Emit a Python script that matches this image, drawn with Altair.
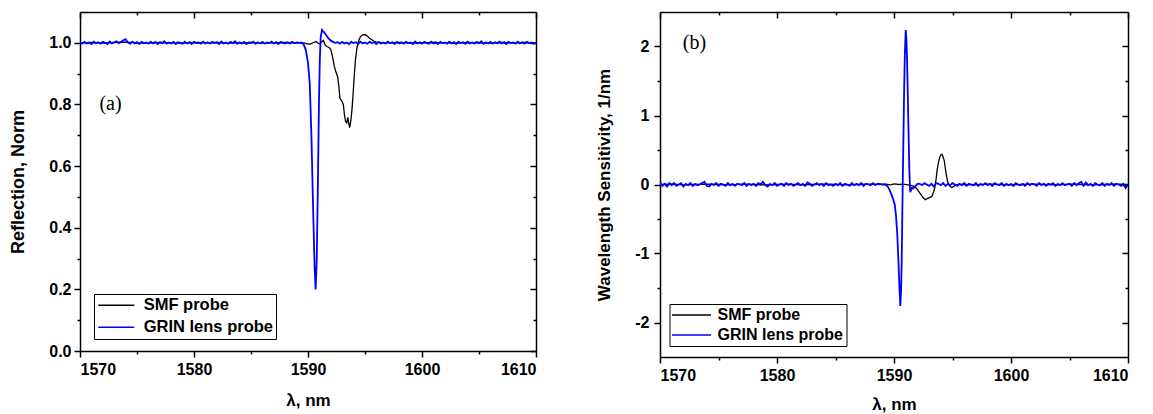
import altair as alt
import numpy as np
import pandas as pd

FONT = "Liberation Sans"
SERIES = ["SMF probe", "GRIN lens probe"]
COLORS = ["#000000", "#0000ff"]
PANEL_TAGS = ["(a)", "(b)"]
X_MAJOR = [1570, 1580, 1590, 1600, 1610]
X_MINOR = [1575, 1585, 1595, 1605]

# ---------------- panel (a): normalised reflection ----------------
# GRIN lens probe, baseline read every 0.2 nm from 1570 to 1610
grin_a_base = [
    1.002, 0.997, 1.003, 0.998, 1.001, 0.996, 1.004, 0.999, 1.002, 0.997, 1.003, 1.000, 0.996, 1.004, 0.998, 1.002, 1.005, 0.999, 1.003, 1.008,
    1.012, 1.001, 0.997, 1.004, 0.998, 1.002, 0.996, 1.003, 0.999, 1.001, 0.997, 1.004, 0.998, 1.003, 0.996, 1.002, 0.999, 1.005, 0.997, 1.001,
    0.998, 1.003, 0.996, 1.002, 1.000, 0.997, 1.004, 0.998, 1.002, 0.996, 1.003, 0.999, 1.001, 0.997, 1.004, 0.998, 1.002, 0.997, 1.003, 0.999,
    1.002, 0.996, 1.004, 0.998, 1.001, 0.997, 1.003, 0.999, 1.005, 0.997, 1.002, 0.998, 1.003, 0.996, 1.001, 0.999, 1.004, 0.997, 1.002, 0.998,
    1.003, 0.997, 1.001, 0.999, 1.004, 0.998, 1.002, 0.996, 1.003, 1.000, 0.998, 1.002, 0.997, 1.003, 0.999, 1.001, 1.000, 1.000, 1.000, 1.000,
    1.000, 1.000, 1.000, 1.000, 1.000, 1.000, 1.000, 1.000, 1.000, 1.000, 1.000, 1.000, 1.000, 1.002, 0.997, 1.003, 0.998, 1.001, 0.996, 1.003,
    0.999, 1.002, 0.997, 1.004, 0.998, 1.001, 0.997, 1.003, 0.999, 1.002, 0.996, 1.003, 0.998, 1.001, 0.997, 1.004, 0.999, 1.002, 0.996, 1.003,
    0.998, 1.002, 0.997, 1.003, 0.999, 1.001, 0.996, 1.004, 0.998, 1.002, 0.997, 1.003, 1.000, 0.997, 1.004, 0.998, 1.002, 0.996, 1.003, 0.999,
    1.001, 0.997, 1.004, 0.998, 1.002, 0.996, 1.003, 0.999, 1.002, 0.997, 1.004, 0.998, 1.001, 0.997, 1.003, 0.999, 1.005, 0.997, 1.002, 0.998,
    1.003, 0.997, 1.002, 0.999, 1.004, 0.998, 1.002, 0.996, 1.003, 0.999, 1.001, 0.997, 1.004, 0.998, 1.002, 0.997, 1.003, 0.999, 1.001, 0.997,
    1.000,
]
grin_a_feat_wl = [1589.4, 1589.6, 1589.8, 1590.0, 1590.15, 1590.3, 1590.45, 1590.58, 1590.67, 1590.77, 1590.87,
                  1590.96, 1591.04, 1591.12, 1591.23, 1591.35, 1591.5, 1591.65, 1591.8, 1592.0, 1592.2, 1592.4]
grin_a_feat = [1.001, 0.996, 0.978, 0.935, 0.870, 0.700, 0.460, 0.270, 0.200, 0.300, 0.550,
               0.800, 0.950, 1.020, 1.042, 1.036, 1.030, 1.022, 1.014, 1.007, 1.003, 1.000]

# SMF probe
smf_a_base_wl = [1570, 1571, 1572, 1573, 1574, 1575, 1576, 1577, 1578, 1579, 1580, 1581, 1582, 1583, 1584, 1585,
                 1586, 1587, 1588, 1589, 1597, 1598, 1599, 1600, 1601, 1602, 1603, 1604, 1605, 1606, 1607, 1608, 1609, 1610]
smf_a_base = [1.000, 1.001, 0.999, 1.001, 1.002, 1.000, 0.999, 1.001, 1.000, 0.999, 1.001, 1.000, 1.001, 0.999, 1.000, 1.001,
              0.999, 1.000, 1.001, 1.000, 1.000, 1.001, 0.999, 1.000, 1.001, 1.000, 0.999, 1.001, 1.000, 0.999, 1.001, 1.000, 1.001, 1.000]
smf_a_feat_wl = [1589.6, 1589.9, 1590.2, 1590.5, 1590.7, 1590.9, 1591.05, 1591.2, 1591.35, 1591.5, 1591.65, 1591.85,
                 1592.0, 1592.15, 1592.3, 1592.45, 1592.6, 1592.7, 1592.8, 1592.95, 1593.1, 1593.2, 1593.3, 1593.4,
                 1593.5, 1593.55, 1593.65, 1593.75, 1593.85, 1593.95, 1594.05, 1594.15, 1594.3, 1594.45, 1594.6,
                 1594.8, 1595.0, 1595.2, 1595.4, 1595.6, 1595.8, 1596.0, 1596.5]
smf_a_feat = [1.000, 0.997, 0.996, 1.001, 1.004, 0.998, 0.996, 1.003, 1.008, 0.993, 0.988, 0.985,
              0.978, 0.955, 0.925, 0.905, 0.890, 0.860, 0.820, 0.812, 0.800, 0.765, 0.745, 0.740,
              0.758, 0.745, 0.725, 0.745, 0.780, 0.830, 0.890, 0.940, 0.985, 1.008, 1.020,
              1.026, 1.027, 1.022, 1.015, 1.010, 1.005, 1.002, 1.000]

# ---------------- panel (b): wavelength sensitivity ----------------
grin_b_base = [
    0.03, -0.02, 0.01, -0.03, 0.02, -0.01, 0.02, -0.02, 0.00, 0.02, -0.03, 0.01, -0.01, 0.02, -0.02, 0.01, -0.01, 0.00, 0.02, 0.04,
    -0.02, -0.03, 0.01, -0.01, 0.02, -0.02, 0.01, 0.00, -0.02, 0.02, -0.01, 0.01, -0.02, 0.01, 0.00, -0.01, 0.02, -0.02, 0.01, -0.01,
    0.01, -0.02, 0.02, 0.00, 0.04, -0.01, -0.03, 0.01, -0.01, 0.02, -0.02, 0.00, 0.01, -0.02, 0.02, -0.01, 0.01, -0.02, 0.00, 0.02,
    -0.01, 0.01, -0.02, 0.03, 0.01, -0.02, 0.00, 0.02, -0.01, 0.01, -0.02, 0.02, -0.01, 0.00, -0.02, 0.01, -0.01, 0.02, -0.02, 0.01,
    0.00, -0.02, 0.02, -0.01, 0.01, -0.01, 0.02, -0.02, 0.01, 0.00, -0.01, 0.02, -0.01, 0.01, 0.01, 0.00, 0.00, 0.00, 0.00, 0.00,
    0.00, 0.00, 0.00, 0.00, 0.00, 0.00, 0.00, 0.00, 0.00, 0.00, 0.00, 0.01, -0.01, 0.02, 0.00, -0.02, 0.01, -0.03, 0.02, 0.01,
    -0.01, 0.02, -0.02, 0.01, -0.01, 0.02, 0.00, -0.02, 0.01, -0.01, 0.02, -0.02, 0.01, 0.00, -0.01, 0.02, -0.02, 0.01, -0.01, 0.02,
    -0.01, 0.01, -0.02, 0.02, 0.00, -0.01, 0.02, -0.02, 0.01, -0.01, 0.01, -0.02, 0.02, 0.00, -0.01, 0.01, -0.02, 0.02, -0.01, 0.01,
    0.00, -0.02, 0.02, -0.01, 0.01, -0.02, 0.01, 0.00, 0.02, -0.02, 0.01, -0.01, 0.02, -0.01, 0.00, 0.01, -0.02, 0.02, -0.01, 0.02,
    0.04, -0.02, 0.03, -0.01, 0.01, -0.02, 0.02, 0.00, -0.01, 0.02, -0.02, 0.01, -0.01, 0.02, -0.02, 0.01, 0.00, -0.02, 0.01, -0.05,
    0.00,
]
grin_b_feat_wl = [1589.2, 1589.43, 1589.6, 1589.77, 1589.9, 1590.06, 1590.17, 1590.28, 1590.4, 1590.48, 1590.54,
                  1590.6, 1590.66, 1590.74, 1590.8, 1590.85, 1590.92, 1591.0, 1591.06, 1591.11, 1591.18, 1591.25,
                  1591.32, 1591.39, 1591.46, 1591.53, 1591.65, 1591.76, 1591.9, 1592.0]
grin_b_feat = [0.00, -0.02, -0.07, -0.14, -0.20, -0.29, -0.45, -0.72, -1.20, -1.55, -1.76,
               -1.55, -1.10, -0.05, 0.60, 1.20, 1.85, 2.24, 2.10, 1.85, 1.30, 0.70,
               0.15, -0.11, -0.08, -0.05, -0.06, -0.03, -0.01, 0.01]

smf_b_base_wl = [1570, 1571, 1572, 1573, 1574, 1575, 1576, 1577, 1578, 1579, 1580, 1581, 1582, 1583, 1584, 1585, 1586, 1587, 1588,
                 1596, 1597, 1598, 1599, 1600, 1601, 1602, 1603, 1604, 1605, 1606, 1607, 1608, 1609, 1610]
smf_b_base = [0.00, 0.005, -0.005, 0.00, 0.005, 0.00, -0.005, 0.005, 0.00, -0.005, 0.00, 0.005, -0.005, 0.00, 0.005, 0.00, -0.005, 0.00, 0.005,
              0.00, -0.005, 0.005, 0.00, -0.005, 0.00, 0.005, 0.00, -0.005, 0.005, 0.00, -0.005, 0.00, 0.005, 0.00]
smf_b_feat_wl = [1589.0, 1589.3, 1589.7, 1590.0, 1590.4, 1590.8, 1591.2, 1591.6, 1591.9, 1592.2, 1592.48, 1592.68,
                 1592.9, 1593.25, 1593.4, 1593.48, 1593.6, 1593.68, 1593.8, 1593.9, 1594.0, 1594.1, 1594.2, 1594.3,
                 1594.4, 1594.47, 1594.57, 1594.67, 1594.8, 1594.96, 1595.1, 1595.25, 1595.5]
smf_b_feat = [0.00, 0.005, -0.005, 0.01, 0.00, 0.005, -0.005, -0.02, -0.05, -0.12, -0.19, -0.22,
              -0.20, -0.17, -0.10, -0.05, 0.08, 0.20, 0.32, 0.39, 0.43, 0.44, 0.40, 0.34,
              0.22, 0.14, 0.05, 0.00, -0.03, -0.045, -0.03, -0.01, 0.00]


def series_frame(name, base_wl, base_val, feat_wl, feat_val):
    lo, hi = feat_wl[0], feat_wl[-1]
    rows = [(float(w), float(v)) for w, v in zip(base_wl, base_val) if w < lo or w > hi]
    rows += [(float(w), float(v)) for w, v in zip(feat_wl, feat_val)]
    rows.sort()
    return pd.DataFrame({"wl": [r[0] for r in rows], "val": [r[1] for r in rows], "series": name})


grid_a = np.round(1570 + 0.2 * np.arange(len(grin_a_base)), 1)
grid_b = np.round(1570 + 0.2 * np.arange(len(grin_b_base)), 1)

smf_a = series_frame(SERIES[0], smf_a_base_wl, smf_a_base, smf_a_feat_wl, smf_a_feat)
grin_a = series_frame(SERIES[1], grid_a, grin_a_base, grin_a_feat_wl, grin_a_feat)
smf_b = series_frame(SERIES[0], smf_b_base_wl, smf_b_base, smf_b_feat_wl, smf_b_feat)
grin_b = series_frame(SERIES[1], grid_b, grin_b_base, grin_b_feat_wl, grin_b_feat)


def make_legend(x, y, line_len, label_offset, label_size, row_pad):
    half = line_len / 12.0
    return alt.Legend(
        orient="none", legendX=x, legendY=y, title=None, direction="vertical",
        strokeColor="black", fillColor="white", padding=3, cornerRadius=0,
        symbolType=f"M-{half:.3f},0H{half:.3f}", symbolSize=144, symbolStrokeWidth=1.5,
        symbolOffset=11, labelOffset=label_offset,
        labelFont=FONT, labelFontSize=label_size, labelFontWeight="bold", labelColor="black",
        rowPadding=row_pad,
    )


def make_panel(smf_df, grin_df, ydom, ymaj, ymin, ylabel_expr, ytitle, ytitle_size, W, H,
               legend, tag, tag_x, tag_y, ytitle_pad, ylabel_pad, xlabel_pad, xtitle_pad):
    xs = alt.Scale(domain=[1570, 1610], nice=False, zero=False)
    ys = alt.Scale(domain=ydom, nice=False, zero=False)
    col = alt.Color("series:N", scale=alt.Scale(domain=SERIES, range=COLORS), legend=legend)

    def X(ax):
        return alt.X("wl:Q", scale=xs, axis=ax)

    def Y(ax):
        return alt.Y("val:Q", scale=ys, axis=ax)

    smf = alt.Chart(smf_df).mark_line(strokeWidth=1.3, clip=True).encode(
        x=X(alt.Axis(orient="bottom", values=X_MAJOR, tickSize=6, labelExpr="toString(datum.value)",
                     labelPadding=xlabel_pad, title="λ, nm", titlePadding=xtitle_pad, titleFontSize=17,
                     domain=True, grid=False)),
        y=Y(alt.Axis(orient="left", values=ymaj, tickSize=6, labelExpr=ylabel_expr,
                     labelPadding=ylabel_pad, title=ytitle, titlePadding=ytitle_pad, titleFontSize=ytitle_size,
                     domain=True, grid=False)),
        color=col,
    )
    grin = alt.Chart(grin_df).mark_line(strokeWidth=1.8, clip=True).encode(
        x=X(None), y=Y(None), color=col)
    ghost = alt.Chart(smf_df).mark_line(strokeOpacity=0)
    minor_out = ghost.encode(
        x=X(alt.Axis(orient="bottom", values=X_MINOR, tickSize=3, labels=False, domain=False, title=None, grid=False)),
        y=Y(alt.Axis(orient="left", values=ymin, tickSize=3, labels=False, domain=False, title=None, grid=False)))
    major_in = ghost.encode(
        x=X(alt.Axis(orient="bottom", offset=-H, values=X_MAJOR, tickSize=6, labels=False, domain=True, title=None, grid=False)),
        y=Y(alt.Axis(orient="left", offset=-W, values=ymaj, tickSize=6, labels=False, domain=True, title=None, grid=False)))
    minor_in = ghost.encode(
        x=X(alt.Axis(orient="bottom", offset=-H, values=X_MINOR, tickSize=3, labels=False, domain=False, title=None, grid=False)),
        y=Y(alt.Axis(orient="left", offset=-W, values=ymin, tickSize=3, labels=False, domain=False, title=None, grid=False)))
    tag_chart = alt.Chart(pd.DataFrame({"tag": [tag]})).mark_text(
        font="Liberation Serif", fontSize=20, align="center", baseline="middle", color="black"
    ).encode(text="tag:N", x=alt.value(tag_x), y=alt.value(tag_y))

    return (
        alt.layer(smf, grin, minor_out, major_in, minor_in, tag_chart)
        .resolve_scale(x="shared", y="shared")
        .resolve_axis(x="independent", y="independent")
        .properties(width=W, height=H)
    )


left = make_panel(
    smf_a, grin_a, [0, 1.1], [0.0, 0.2, 0.4, 0.6, 0.8, 1.0], [0.1, 0.3, 0.5, 0.7, 0.9],
    "format(datum.value, '.1f')", "Reflection, Norm", 18, 456, 339,
    make_legend(14, 282, 36, 19.2, 16.5, 5), PANEL_TAGS[0], 30.5, 91.5,
    ytitle_pad=21, ylabel_pad=3, xlabel_pad=4, xtitle_pad=15,
)
right = make_panel(
    smf_b, grin_b, [-2.5, 2.5], [-2, -1, 0, 1, 2], [-1.5, -0.5, 0.5, 1.5],
    "toString(datum.value)", "Wavelength Sensitivity, 1/nm", 17, 468, 345,
    make_legend(9.5, 292, 39, 18.1, 16, 4), PANEL_TAGS[1], 34.5, 31,
    ytitle_pad=21, ylabel_pad=5, xlabel_pad=4, xtitle_pad=13,
)

chart = (
    alt.hconcat(left, right, spacing=124, bounds="flush")
    .resolve_scale(color="independent")
    .properties(padding={"left": 1, "top": 3, "right": 5, "bottom": 2}, background="white")
    .configure_axis(
        labelFont=FONT, labelFontWeight="bold", labelFontSize=16, labelColor="black",
        titleFont=FONT, titleFontWeight="bold", titleFontSize=17, titleColor="black",
        domainColor="black", domainWidth=1.5, tickColor="black", tickWidth=1.5, grid=False,
    )
    .configure_view(stroke=None)
)

chart.save("out.html", embed_options={"renderer": "svg", "actions": False})
